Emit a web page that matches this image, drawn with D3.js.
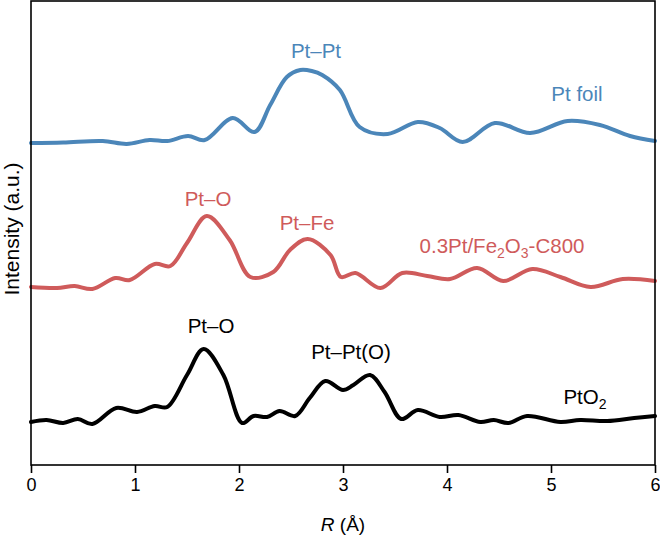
<!DOCTYPE html>
<html><head><meta charset="utf-8">
<script src="https://cdn.jsdelivr.net/npm/d3@7"></script>
<style>body{margin:0;background:#fff}svg{display:block}text{font-family:"Liberation Sans",Arial,Helvetica,sans-serif}</style>
</head><body><svg id="c" width="660" height="539"></svg>
<script>
// R (Å) sample positions and intensities (a.u., before vertical offset)
const ptFoilR   = [0,0.31,0.69,0.92,1.14,1.31,1.51,1.67,1.94,2.15,2.30,2.46,2.59,2.70,2.80,2.97,3.16,3.43,3.72,3.93,4.15,4.46,4.80,5.16,5.47,5.76,6.0];
const ptFoilI   = [0.02,0.025,0.04,0.01,0.05,0.04,0.09,0.05,0.27,0.13,0.40,0.68,0.75,0.74,0.70,0.55,0.18,0.11,0.23,0.17,0.03,0.22,0.12,0.24,0.20,0.09,0.04];
const ptFeR     = [0,0.25,0.42,0.59,0.81,0.95,1.19,1.34,1.50,1.69,1.91,2.11,2.33,2.49,2.66,2.88,2.98,3.12,3.36,3.57,3.81,4.03,4.29,4.54,4.82,5.09,5.38,5.69,6.0];
const ptFeI     = [0.03,0.02,0.04,0.01,0.12,0.10,0.26,0.24,0.47,0.74,0.50,0.13,0.18,0.40,0.51,0.35,0.13,0.17,0.02,0.17,0.14,0.11,0.22,0.09,0.21,0.13,0.03,0.11,0.09];
const ptO2R     = [0,0.15,0.31,0.45,0.59,0.82,1.02,1.19,1.31,1.50,1.66,1.85,2.03,2.14,2.27,2.39,2.54,2.68,2.83,3.0,3.10,3.26,3.40,3.56,3.72,3.93,4.11,4.32,4.45,4.59,4.77,5.09,5.28,5.54,5.80,6.0];
const ptO2I     = [0.03,0.05,0.02,0.06,0.01,0.17,0.13,0.19,0.18,0.50,0.76,0.50,0.02,0.09,0.08,0.14,0.09,0.27,0.44,0.35,0.40,0.50,0.33,0.06,0.15,0.08,0.10,0.03,0.05,0.02,0.09,0.03,0.05,0.04,0.07,0.09];
const offsets   = [3.20, 1.75, 0.40];
const colors    = ["#4b86b9", "#cf5b5b", "#000000"];
const xTicks    = [0,1,2,3,4,5,6];

const W=660,H=539, m={l:31,r:5,t:1,b:74};
const svg=d3.select("#c");
const x=d3.scaleLinear().domain([0,6]).range([m.l,W-m.r]);
const y=d3.scaleLinear().domain([0,4.64]).range([H-m.b,m.t]);

const series=[[ptFoilR,ptFoilI],[ptFeR,ptFeI],[ptO2R,ptO2I]];
const line=d3.line().x(d=>x(d[0])).y(d=>y(d[1])).curve(d3.curveCatmullRom.alpha(0.5));
series.forEach((s,i)=>{
  const pts=s[0].map((r,j)=>[r,s[1][j]+offsets[i]]);
  svg.append("path").datum(pts).attr("d",line).attr("fill","none")
    .attr("stroke",colors[i]).attr("stroke-width",4).attr("stroke-linejoin","round").attr("stroke-linecap","round");
});

// frame
svg.append("rect").attr("x",m.l).attr("y",m.t).attr("width",W-m.r-m.l).attr("height",H-m.b-m.t)
  .attr("fill","none").attr("stroke","#000").attr("stroke-width",1.6);

const ax=svg.append("g").attr("transform",`translate(0,${H-m.b})`)
  .call(d3.axisBottom(x).tickValues(xTicks).tickFormat(d3.format("d")).tickSize(8).tickPadding(5));
ax.select(".domain").remove();
ax.selectAll("line").attr("stroke-width",1.6);
ax.selectAll("text").attr("font-size",18).attr("font-family","Liberation Sans, Arial, sans-serif").attr("fill","#000");

// axis labels
const xl=svg.append("text").attr("x",343).attr("y",531).attr("text-anchor","middle").attr("font-size",19);
xl.append("tspan").attr("font-style","italic").text("R");
xl.append("tspan").text(" (Å)");
svg.append("text").attr("transform","translate(19,229) rotate(-90)").attr("text-anchor","middle").attr("font-size",21).text("Intensity (a.u.)");

// annotations
function lab(tx,ty,parts,col){
  const t=svg.append("text").attr("x",tx).attr("y",ty).attr("text-anchor","middle").attr("font-size",20.5).attr("fill",col);
  let shifted=false;
  parts.forEach(p=>{
    if(typeof p==="string"){ const s=t.append("tspan").text(p); if(shifted){s.attr("dy",-5);shifted=false;} }
    else { t.append("tspan").attr("font-size",14).attr("dy",5).text(p.sub); shifted=true; }
  });
}
lab(316,58,["Pt–Pt"],colors[0]);
lab(577,101,["Pt foil"],colors[0]);
lab(208,206,["Pt–O"],colors[1]);
lab(307,230,["Pt–Fe"],colors[1]);
lab(502,253,["0.3Pt/Fe",{sub:"2"},"O",{sub:"3"},"-C800"],colors[1]);
lab(211,333,["Pt–O"],colors[2]);
lab(351,359,["Pt–Pt(O)"],colors[2]);
lab(585,404,["PtO",{sub:"2"}],colors[2]);
</script></body></html>
